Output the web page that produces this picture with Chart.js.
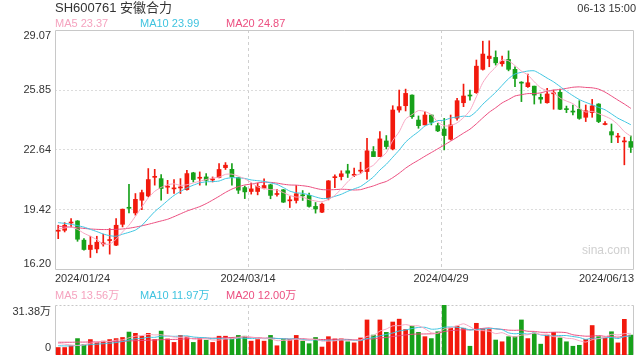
<!DOCTYPE html>
<html>
<head>
<meta charset="utf-8">
<script src="https://cdn.jsdelivr.net/npm/chart.js@4.4.1/dist/chart.umd.min.js"></script>
<style>
  body { margin: 0; width: 640px; height: 360px; background: #fff; position: relative; overflow: hidden;
         font-family: "Liberation Sans", Arial, "Noto Sans CJK SC", sans-serif; color: #333; }
  .t { position: absolute; white-space: nowrap; line-height: 1; }
  canvas { position: absolute; left: 0; }
</style>
</head>
<body>
<canvas id="kline" width="640" height="290" style="top:0"></canvas>
<canvas id="volume" width="640" height="70" style="top:290px"></canvas>

<div class="t" style="left:55px;top:1px;font-size:13px">SH600761 安徽合力</div>
<div class="t" style="right:4px;top:3px;font-size:11px">06-13 15:00</div>
<div class="t" style="left:55px;top:18px;font-size:11px;color:#f5a3bf">MA5 23.37</div>
<div class="t" style="left:140px;top:18px;font-size:11px;color:#3fc3df">MA10 23.99</div>
<div class="t" style="left:226px;top:18px;font-size:11px;color:#ec4f80">MA20 24.87</div>
<div class="t" style="left:55px;top:290px;font-size:11px;color:#f5a3bf">MA5 13.56万</div>
<div class="t" style="left:140px;top:290px;font-size:11px;color:#3fc3df">MA10 11.97万</div>
<div class="t" style="left:226px;top:290px;font-size:11px;color:#ec4f80">MA20 12.00万</div>
<div class="t" style="left:582px;top:244px;font-size:12px;color:#d0d0d0">sina.com</div>

<script>
// trading days 2024/01/24 - 2024/06/13
const days = [
  '01-24','01-25','01-26','01-29','01-30','01-31',
  '02-01','02-02','02-05','02-06','02-07','02-08','02-19','02-20','02-21','02-22','02-23','02-26','02-27','02-28','02-29',
  '03-01','03-04','03-05','03-06','03-07','03-08','03-11','03-12','03-13','03-14','03-15','03-18','03-19','03-20','03-21','03-22','03-25','03-26','03-27','03-28','03-29',
  '04-01','04-02','04-03','04-08','04-09','04-10','04-11','04-12','04-15','04-16','04-17','04-18','04-19','04-22','04-23','04-24','04-25','04-26','04-29','04-30',
  '05-06','05-07','05-08','05-09','05-10','05-13','05-14','05-15','05-16','05-17','05-20','05-21','05-22','05-23','05-24','05-27','05-28','05-29','05-30','05-31',
  '06-03','06-04','06-05','06-06','06-07','06-11','06-12','06-13'
];
const dateTicks = ['2024/01/24', '2024/03/14', '2024/04/29', '2024/06/13'];
const priceTicks = [16.20, 19.42, 22.64, 25.85, 29.07];
const volTicks = [0, 31.38];
const volTickLabels = ['0', '31.38万'];

const opens = [
  18.28,18.33,18.72,18.83,17.80,17.30,17.33,17.60,17.78,17.53,
  18.65,19.56,19.26,19.94,20.17,21.17,21.10,20.64,20.55,20.60,
  20.51,21.41,21.12,21.19,21.03,21.16,21.69,21.60,21.16,20.62,
  20.41,20.41,20.59,20.77,20.25,20.50,19.91,19.93,20.23,20.20,
  19.61,19.30,20.05,21.15,21.21,21.52,21.28,21.50,21.48,22.55,
  22.28,23.12,22.69,24.78,25.01,25.58,24.24,23.98,24.51,23.94,
  23.76,23.21,24.34,25.17,25.57,25.71,26.96,27.54,27.60,27.26,
  27.49,26.96,26.27,26.03,26.06,25.46,25.17,25.65,25.73,24.85,
  24.71,24.82,24.39,24.64,25.10,24.00,23.62,23.33,23.07,23.09
];
const highs = [
  18.60,18.74,18.96,18.85,17.89,18.01,18.01,18.12,18.42,18.96,
  19.47,20.80,20.30,20.48,21.64,21.60,21.32,21.01,21.05,21.10,
  21.55,21.44,21.46,21.37,21.19,21.91,21.96,21.91,21.17,20.70,
  20.86,20.86,21.09,20.80,20.53,20.52,20.14,20.73,20.46,20.32,
  19.82,19.79,21.00,21.30,21.52,21.87,21.66,21.98,23.26,22.82,
  23.62,23.41,25.01,25.85,25.90,25.60,24.46,24.69,24.52,24.07,
  24.33,24.51,25.41,26.17,25.85,27.46,28.47,28.49,27.95,27.67,
  27.95,27.10,26.30,26.71,26.06,25.64,25.94,25.85,25.90,24.99,
  25.05,25.28,25.05,25.35,25.12,24.16,24.03,23.53,23.32,23.39
];
const lows = [
  17.88,18.24,18.51,17.74,17.26,16.87,17.12,17.48,17.05,17.50,
  18.51,19.26,19.14,19.44,20.12,20.75,19.94,20.30,20.30,20.30,
  20.48,20.92,20.75,20.75,20.92,21.14,21.59,20.75,20.30,20.03,
  20.27,20.23,20.55,20.02,20.16,19.82,19.55,19.79,19.93,19.57,
  19.25,19.28,19.96,20.62,21.03,21.16,21.21,21.39,21.07,22.28,
  22.28,22.69,22.64,24.66,24.73,24.33,23.80,23.98,23.98,23.62,
  22.64,23.17,24.24,24.96,25.31,25.67,26.92,27.10,27.19,27.13,
  26.88,26.03,25.23,25.99,25.10,25.14,25.14,24.82,24.80,24.64,
  24.51,24.28,24.16,24.39,24.10,23.98,23.03,23.03,21.84,22.50
];
const closes = [
  18.33,18.60,18.76,17.85,17.30,17.53,17.69,17.63,17.82,18.60,
  19.46,19.51,19.99,20.35,21.05,21.21,20.57,20.68,20.60,20.64,
  21.37,21.05,21.16,21.01,21.07,21.59,21.82,21.19,20.48,20.39,
  20.55,20.68,20.73,20.20,20.29,19.84,19.95,20.29,20.18,19.61,
  19.47,19.73,20.98,21.20,21.36,21.39,21.32,21.54,22.59,22.28,
  23.23,22.82,24.78,24.96,25.67,24.42,23.94,24.51,24.12,23.66,
  23.41,23.98,25.28,25.53,25.53,27.13,27.78,27.67,27.31,27.40,
  26.96,26.47,26.22,26.24,25.58,25.36,25.64,25.69,24.82,24.80,
  24.67,24.33,24.74,25.00,24.16,24.04,23.44,23.37,23.11,22.78
];
const ma5 = [
  18.40,18.45,18.50,18.38,18.17,18.01,17.83,17.60,17.59,17.85,
  18.24,18.60,19.08,19.58,20.07,20.42,20.63,20.77,20.82,20.74,
  20.77,20.87,20.96,21.05,21.13,21.18,21.33,21.34,21.23,21.09,
  20.89,20.66,20.57,20.51,20.49,20.35,20.20,20.11,20.11,19.97,
  19.90,19.86,19.99,20.20,20.55,20.93,21.25,21.36,21.64,21.82,
  22.19,22.49,23.14,23.61,24.29,24.53,24.75,24.70,24.53,24.13,
  23.93,23.94,24.09,24.37,24.75,25.49,26.25,26.73,27.08,27.46,
  27.42,27.16,26.87,26.66,26.29,25.97,25.81,25.70,25.42,25.26,
  25.12,24.86,24.67,24.71,24.58,24.45,24.28,24.00,23.62,23.37
];
const ma10 = [
  18.74,18.70,18.65,18.58,18.50,18.38,18.26,18.13,18.04,18.01,
  18.12,18.22,18.34,18.59,18.96,19.33,19.62,19.92,20.20,20.41,
  20.60,20.75,20.87,20.93,20.94,20.97,21.10,21.15,21.14,21.11,
  21.03,20.99,20.95,20.87,20.79,20.62,20.43,20.34,20.31,20.23,
  20.12,20.03,20.05,20.15,20.26,20.42,20.55,20.68,20.92,21.19,
  21.56,21.87,22.25,22.63,23.06,23.36,23.62,23.92,24.07,24.21,
  24.23,24.35,24.40,24.45,24.44,24.71,25.09,25.41,25.73,26.10,
  26.46,26.71,26.80,26.87,26.88,26.70,26.49,26.29,26.04,25.78,
  25.55,25.34,25.19,25.06,24.92,24.79,24.57,24.34,24.17,23.99
];
const ma20 = [
  18.55,18.52,18.50,18.47,18.43,18.40,18.38,18.37,18.37,18.38,
  18.40,18.44,18.50,18.57,18.65,18.74,18.83,18.92,19.06,19.21,
  19.36,19.48,19.60,19.76,19.95,20.15,20.36,20.54,20.67,20.76,
  20.81,20.87,20.91,20.90,20.86,20.80,20.76,20.75,20.72,20.67,
  20.58,20.51,20.50,20.51,20.53,20.52,20.49,20.51,20.61,20.71,
  20.84,20.95,21.15,21.39,21.66,21.89,22.09,22.30,22.50,22.70,
  22.90,23.11,23.32,23.54,23.75,24.04,24.36,24.66,24.90,25.16,
  25.34,25.53,25.60,25.66,25.66,25.70,25.79,25.85,25.88,25.94,
  26.00,26.02,25.99,25.97,25.90,25.74,25.53,25.31,25.10,24.87
];
// volume in 万
const volumes = [
  4.7,4.7,5.8,10.3,6.5,9.7,7.9,8.7,9.7,10.3,
  11.0,14.4,13.6,11.8,13.6,9.7,15.0,10.1,7.9,12.3,
  11.4,7.9,10.3,9.3,7.9,11.8,11.8,10.8,12.3,11.8,
  8.7,9.7,8.7,12.3,5.8,9.7,9.7,12.3,8.7,7.1,
  11.0,5.0,11.5,10.1,10.1,8.3,7.6,10.7,22.0,12.5,
  22.0,14.2,20.7,22.5,16.0,18.1,14.2,11.5,10.3,14.6,
  31.38,17.0,18.1,16.8,5.5,19.9,16.4,16.0,9.4,8.3,
  11.5,11.5,22.0,10.3,13.8,6.8,12.5,14.2,10.7,8.3,
  5.5,6.1,9.8,18.5,11.5,10.7,14.6,7.6,22.4,12.5
];
const volMa5 = [
  7.2,6.8,6.3,6.0,6.4,7.4,8.0,8.6,8.5,9.3,
  9.5,10.8,11.8,12.2,12.9,12.6,12.7,12.0,11.3,11.0,
  11.3,9.9,10.0,10.2,9.4,9.4,10.2,10.3,10.9,11.7,
  11.1,10.7,10.2,10.2,9.0,9.2,9.2,10.0,9.2,9.5,
  9.8,8.8,8.7,8.9,9.5,9.0,9.5,9.4,11.7,12.2,
  15.0,16.3,18.3,18.4,19.1,18.3,18.3,16.5,14.0,13.7,
  16.4,17.0,18.3,19.6,17.8,15.5,15.3,14.9,13.4,14.0,
  12.3,11.3,12.5,12.7,13.8,12.9,13.1,11.5,11.6,10.5,
  10.2,9.0,8.1,9.6,10.3,11.3,13.0,12.6,13.4,13.56
];
const volMa10 = [
  5.8,5.7,5.7,6.0,6.2,6.5,6.8,7.1,7.4,7.8,
  8.5,9.4,10.2,10.4,11.1,11.1,11.8,11.9,11.7,11.9,
  12.0,11.3,11.0,10.8,10.2,10.4,10.1,10.1,10.6,10.5,
  10.3,10.4,10.3,10.6,10.4,10.2,10.0,10.1,9.7,9.3,
  9.5,9.0,9.3,9.1,9.5,9.4,9.2,9.0,10.3,10.9,
  12.0,12.9,13.8,15.1,15.7,16.6,17.3,17.4,16.2,16.4,
  17.4,17.6,17.4,16.8,15.8,15.9,16.2,16.6,16.5,15.9,
  13.9,13.3,13.7,13.1,13.9,12.6,12.2,12.0,12.2,12.2,
  11.6,11.0,9.8,10.6,10.4,10.8,11.0,10.3,11.5,11.97
];
const volMa20 = [
  8.0,8.0,8.0,8.1,8.1,8.2,8.2,8.3,8.4,8.5,
  8.6,8.8,9.0,9.1,9.3,9.4,9.6,9.7,9.8,9.9,
  10.2,10.4,10.6,10.6,10.6,10.7,10.9,11.0,11.2,11.2,
  11.1,10.9,10.6,10.7,10.3,10.3,10.0,10.1,10.2,9.9,
  9.9,9.7,9.8,9.8,9.9,9.8,9.6,9.6,10.0,10.1,
  10.7,11.0,11.6,12.1,12.6,13.0,13.2,13.2,13.3,13.6,
  14.7,15.3,15.6,15.9,15.7,16.3,16.7,17.0,16.4,16.1,
  15.6,15.5,15.6,14.9,14.8,14.3,14.2,14.3,14.3,14.0,
  12.7,12.2,11.8,11.9,12.2,11.7,11.6,11.2,11.8,12.0
];

const UP = '#f2190d', DOWN = '#17a11a';
const C5 = '#f8a6c2', C10 = '#3ec5e1', C20 = '#eb4c7e';
const FONT = '"Liberation Sans", Arial, "Noto Sans CJK SC", sans-serif';
const candleColors = closes.map((c, i) => c >= opens[i] ? UP : DOWN);

// box round the plot area and y labels (first/last pulled inside)
const frame = {
  id: 'frame',
  beforeDatasetsDraw(chart, args, o) {
    const { ctx, chartArea: a } = chart;
    const l = Math.round(a.left) + 0.5, r = Math.round(a.right) - 0.5;
    const t = Math.round(a.top) + 0.5, b = Math.round(a.bottom) - 0.5;
    ctx.save();
    ctx.strokeStyle = '#c8c8c8';
    ctx.lineWidth = 1;
    ctx.beginPath();
    ctx.moveTo(l, t); ctx.lineTo(l, b); ctx.lineTo(r, b); ctx.lineTo(r, t);
    if (!o.dashTop) ctx.lineTo(l, t);
    ctx.stroke();
    if (o.dashTop) {
      ctx.setLineDash([2, 2]);
      ctx.beginPath(); ctx.moveTo(l, t); ctx.lineTo(r, t); ctx.stroke();
    }
    ctx.restore();
  },
  afterDraw(chart, args, o) {
    const { ctx, chartArea: a, scales: { y } } = chart;
    ctx.save();
    ctx.font = '11px ' + FONT;
    ctx.fillStyle = '#333';
    ctx.textAlign = 'right';
    ctx.textBaseline = 'middle';
    o.ticks.forEach((v, i) => {
      let py = y.getPixelForValue(v);
      if (i === 0) py -= o.shift;
      else if (i === o.ticks.length - 1) py += o.shift;
      ctx.fillText(o.labels[i], a.left - 4, py);
    });
    ctx.restore();
  }
};

function maLine(data, color) {
  return { type: 'line', data, borderColor: color, borderWidth: 1, pointRadius: 0, tension: 0.2, order: 0 };
}

// linear axis 0..3 over the plot width: date labels + dashed vertical lines
function dateAxis(showLabels) {
  return {
    type: 'linear', position: 'bottom', min: 0, max: dateTicks.length - 1,
    offset: false,
    afterBuildTicks: s => { s.ticks = dateTicks.map((_, i) => ({ value: i })); },
    afterFit: s => { s.height = showLabels ? 20 : 0; },
    grid: { offset: false, color: c => (c.index === 1 || c.index === 2) ? '#cfcfcf' : 'transparent', drawTicks: false },
    border: { display: false, dash: [3, 3] },
    ticks: {
      display: showLabels, align: 'inner', padding: 2, maxRotation: 0, autoSkip: false,
      color: '#333', font: { size: 11, family: FONT },
      callback: (v, i) => dateTicks[i]
    }
  };
}

Chart.defaults.animation = false;
Chart.defaults.responsive = false;
Chart.defaults.devicePixelRatio = 1;

new Chart(document.getElementById('kline'), {
  type: 'bar',
  data: {
    labels: days,
    datasets: [
      maLine(ma5, C5),
      maLine(ma10, C10),
      maLine(ma20, C20),
      {
        data: lows.map((l, i) => [l, highs[i]]),
        backgroundColor: candleColors, barThickness: 1, grouped: false, order: 2
      },
      {
        data: opens.map((o, i) => [o, closes[i]]),
        backgroundColor: candleColors, barThickness: 4, minBarLength: 1, grouped: false, order: 1
      }
    ]
  },
  options: {
    layout: { padding: { top: 30, right: 6, left: 0, bottom: 0 } },
    plugins: {
      legend: { display: false }, tooltip: { enabled: false },
      frame: { ticks: priceTicks, labels: priceTicks.map(v => v.toFixed(2)), shift: 6 }
    },
    scales: {
      x: { type: 'category', display: false },
      xd: dateAxis(true),
      y: {
        min: priceTicks[0], max: priceTicks[priceTicks.length - 1],
        afterBuildTicks: s => { s.ticks = priceTicks.map(v => ({ value: v })); },
        afterFit: s => { s.width = 55; },
        grid: { color: c => (c.index === 0 || c.index === priceTicks.length - 1) ? 'transparent' : '#dcdcdc', drawTicks: false },
        border: { display: false, dash: [2, 2] },
        ticks: { display: false }
      }
    }
  },
  plugins: [frame]
});

new Chart(document.getElementById('volume'), {
  type: 'bar',
  data: {
    labels: days,
    datasets: [
      maLine(volMa5, C5),
      maLine(volMa10, C10),
      maLine(volMa20, C20),
      { data: volumes, backgroundColor: candleColors, barThickness: 4, grouped: false, order: 1 }
    ]
  },
  options: {
    layout: { padding: { top: 15, right: 6, left: 0, bottom: 5 } },
    plugins: {
      legend: { display: false }, tooltip: { enabled: false },
      frame: { ticks: volTicks, labels: volTickLabels, shift: 7, dashTop: true }
    },
    scales: {
      x: { type: 'category', display: false },
      xd: dateAxis(false),
      y: {
        min: volTicks[0], max: volTicks[1],
        afterFit: s => { s.width = 55; },
        grid: { display: false },
        border: { display: false },
        ticks: { display: false }
      }
    }
  },
  plugins: [frame]
});
</script>
</body>
</html>
